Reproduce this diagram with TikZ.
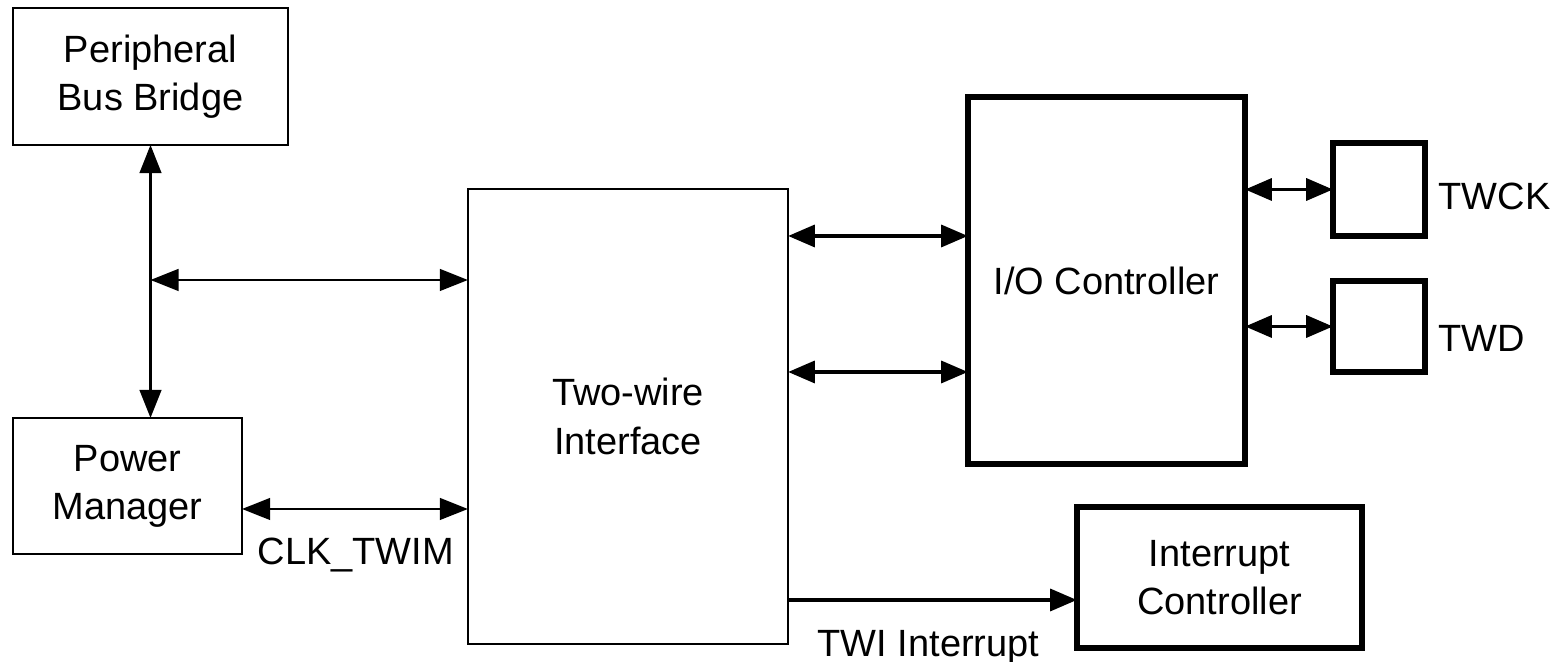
\documentclass[tikz,border=0pt]{standalone}
\usepackage{fontspec}
\setmainfont{Liberation Sans}
\usetikzlibrary{arrows.meta}

\begin{document}
\begin{tikzpicture}[x=0.01cm, y=-0.01cm,
    font=\fontsize{10.8}{13.7}\selectfont,
    thinBox/.style={draw, line width=0.6pt, inner sep=0pt, outer sep=0pt, align=center},
    thickBox/.style={thinBox, line width=1.5pt},
    thinLink/.style={line width=0.6pt, {Triangle[length=8pt,width=6.2pt]}-{Triangle[length=8pt,width=6.2pt]}},
    thickLink/.style={line width=1.1pt, {Triangle[length=7.6pt,width=6.2pt]}-{Triangle[length=7.6pt,width=6.2pt]}},
    oneWay/.style={line width=1.1pt, -{Triangle[length=7.6pt,width=6.2pt]}},
    sideLabel/.style={anchor=base west, inner sep=0pt}]

    % Page size
    \useasboundingbox (0,0) rectangle (1565,662);

    % Blocks
    \node[thinBox, minimum width=2.75cm, minimum height=1.37cm] (bridge) at (150.5,76.5) {Peripheral\\Bus Bridge};
    \node[thinBox, minimum width=2.29cm, minimum height=1.36cm] (power) at (127.5,486) {Power\\Manager};
    \node[thinBox, minimum width=3.2cm, minimum height=4.55cm] (twi) at (628,416.5) {Two-wire\\Interface};
    \node[thickBox, minimum width=2.77cm, minimum height=3.67cm] (ioctl) at (1106.5,280.5) {I/O Controller};
    \node[thickBox, minimum width=0.92cm, minimum height=0.93cm] (twck) at (1379,189.5) {};
    \node[thickBox, minimum width=0.92cm, minimum height=0.91cm] (twd) at (1379,326.5) {};
    \node[thickBox, minimum width=2.85cm, minimum height=1.41cm] (intc) at (1219.5,577.5) {Interrupt\\Controller};

    % Rows of the links
    \coordinate (rowBus) at (0,280);
    \coordinate (rowClk) at (0,509);
    \coordinate (rowA) at (0,236);
    \coordinate (rowB) at (0,372);
    \coordinate (rowIrq) at (0,600);

    % Links on the left
    \draw[thinLink] (bridge.south) -- (bridge.south |- power.north);
    \draw[thinLink] (bridge.south |- rowBus) -- (twi.west |- rowBus);
    \draw[thinLink] (power.east |- rowClk) -- (twi.west |- rowClk);

    % Links on the right
    \draw[thickLink] (twi.east |- rowA) -- (ioctl.west |- rowA);
    \draw[thickLink] (twi.east |- rowB) -- (ioctl.west |- rowB);
    \draw[thickLink] (ioctl.east |- twck.west) -- (twck.west);
    \draw[thickLink] (ioctl.east |- twd.west) -- (twd.west);
    \draw[oneWay] (twi.east |- rowIrq) -- (intc.west |- rowIrq);

    % Labels
    \node[sideLabel] (clkLabel) at (257,565) {CLK\_TWIM};
    \node[sideLabel] (irqLabel) at (817,657) {TWI Interrupt};
    \node[sideLabel] (twckLabel) at (1438,210) {TWCK};
    \node[sideLabel] (twdLabel) at (1438,352) {TWD};

\end{tikzpicture}
\end{document}
